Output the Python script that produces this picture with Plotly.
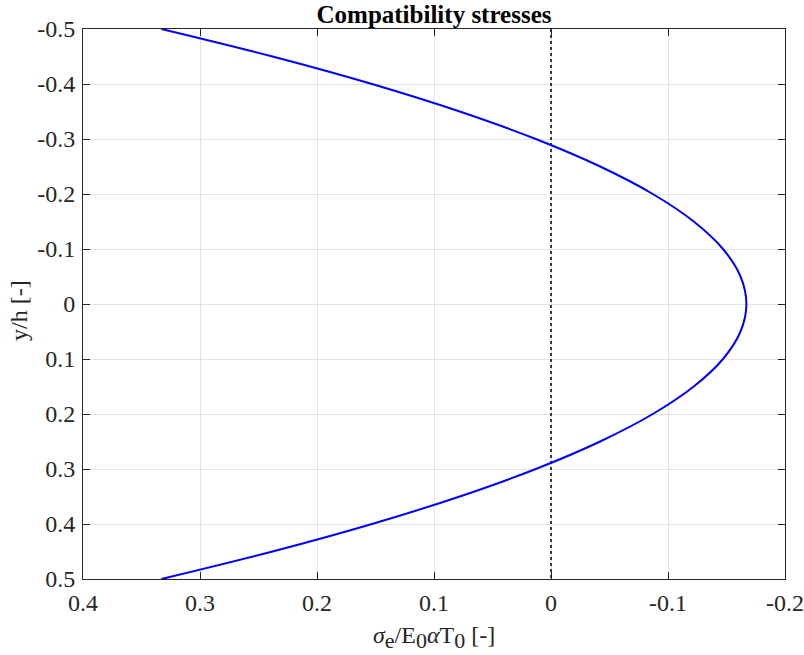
import plotly.graph_objects as go

# Data
y_pos = [-0.5, -0.45, -0.4, -0.35, -0.3, -0.25, -0.2, -0.15, -0.1, -0.05, 0.0,
         0.05, 0.1, 0.15, 0.2, 0.25, 0.3, 0.35, 0.4, 0.45, 0.5]
stress = [0.333, 0.238, 0.153, 0.078, 0.013, -0.042, -0.087, -0.122, -0.147, -0.162, -0.167,
          -0.162, -0.147, -0.122, -0.087, -0.042, 0.013, 0.078, 0.153, 0.238, 0.333]
zero_line_x = [0, 0]
zero_line_y = [-0.5, 0.5]

x_ticks = [0.4, 0.3, 0.2, 0.1, 0, -0.1, -0.2]
x_tick_text = ["0.4", "0.3", "0.2", "0.1", "0", "-0.1", "-0.2"]
y_ticks = [-0.5, -0.4, -0.3, -0.2, -0.1, 0, 0.1, 0.2, 0.3, 0.4, 0.5]
y_tick_text = ["-0.5", "-0.4", "-0.3", "-0.2", "-0.1", "0", "0.1", "0.2", "0.3", "0.4", "0.5"]

font_family = "Liberation Serif, Times New Roman, serif"
txt_color = "#262626"

fig = go.Figure()
fig.add_trace(go.Scatter(x=zero_line_x, y=zero_line_y, mode="lines",
                         line=dict(color="black", width=1.5, dash="dot"),
                         showlegend=False, hoverinfo="skip"))
fig.add_trace(go.Scatter(x=stress, y=y_pos, mode="lines",
                         line=dict(color="#0000ff", width=2, shape="spline"),
                         showlegend=False))

axis_common = dict(
    showline=True, linecolor=txt_color, linewidth=1, mirror="ticks",
    ticks="inside", ticklen=7, tickcolor=txt_color, tickwidth=1,
    showgrid=True, gridcolor="#e3e3e3", gridwidth=1,
    zeroline=False, automargin=False,
    tickfont=dict(family=font_family, size=24, color=txt_color),
)

sub = "<sub><span style='font-size:22px'>{}</span></sub>"
x_label = ("<i>σ</i>" + sub.format("e") + "/E" + sub.format("0")
           + "<i>α</i>T" + sub.format("0") + " [-]")

fig.update_layout(
    width=804, height=655,
    margin=dict(l=83, r=19, t=29, b=76),
    paper_bgcolor="white", plot_bgcolor="white",
    title=dict(text="<b>Compatibility stresses</b>", x=(434) / 804, xanchor="center",
               y=1 - 14 / 655, yanchor="middle",
               font=dict(family=font_family, size=25, color="black")),
    xaxis=dict(range=[0.4, -0.2], tickvals=x_ticks, ticktext=x_tick_text,
               ticklabelstandoff=2, **axis_common),
    yaxis=dict(range=[0.5, -0.5], tickvals=y_ticks, ticktext=y_tick_text,
               ticklabelstandoff=2, **axis_common),
    annotations=[
        dict(text=x_label,
             xref="paper", yref="paper", x=0.5, y=(579 - 637) / 550,
             xanchor="center", yanchor="middle", showarrow=False,
             font=dict(family=font_family, size=24, color=txt_color)),
        dict(text="y/h [-]", textangle=-90,
             xref="paper", yref="paper", x=(19 - 83) / 702, y=(579 - 311) / 550,
             xanchor="center", yanchor="middle", showarrow=False,
             font=dict(family=font_family, size=24, color=txt_color)),
    ],
)

fig.write_html("out.html")
